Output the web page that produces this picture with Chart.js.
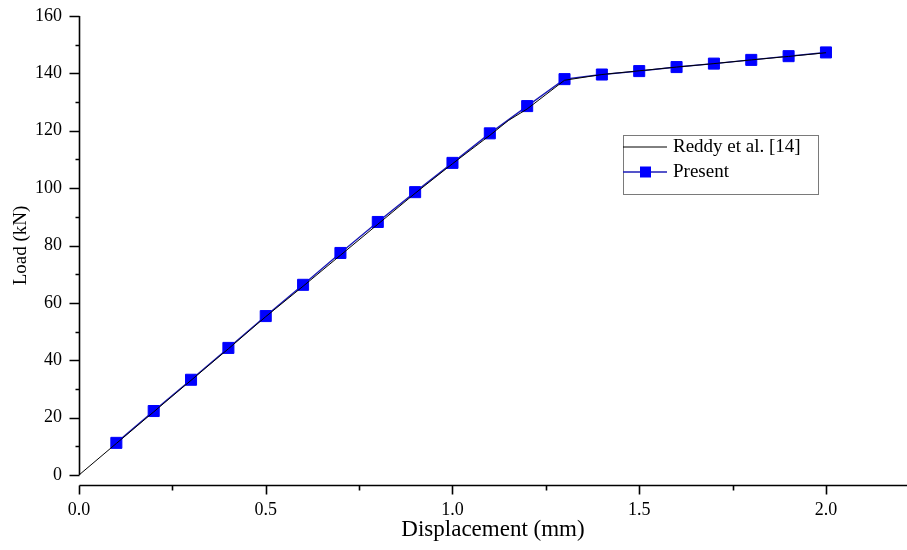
<!DOCTYPE html>
<html>
<head>
<meta charset="utf-8">
<script src="https://cdn.jsdelivr.net/npm/chart.js@4.4.0/dist/chart.umd.min.js"></script>
<style>
  body { margin: 0; background: #fff; }
  #wrap { width: 907px; height: 550px; }
</style>
</head>
<body>
<div id="wrap"><canvas id="chart"></canvas></div>
<script>
// displacement (mm) / load (kN)
const reddyX = [0, 0.1, 0.2, 0.3, 0.4, 0.5, 0.6, 0.7, 0.8, 0.9, 1.0, 1.1, 1.15, 1.2, 1.25, 1.3, 1.4, 1.5, 1.6, 1.7, 1.8, 1.9, 2.0];
const reddyY = [0, 11, 22, 33, 44, 55.2, 65.8, 76.6, 87.4, 98.2, 108.5, 118.4, 123.6, 127.6, 132.6, 137.6, 139.6, 140.9, 142.2, 143.4, 144.7, 145.9, 147.2];
const presentX = [0.1, 0.2, 0.3, 0.4, 0.5, 0.6, 0.7, 0.8, 0.9, 1.0, 1.1, 1.2, 1.3, 1.4, 1.5, 1.6, 1.7, 1.8, 1.9, 2.0];
const presentY = [11.2, 22.3, 33.2, 44.3, 55.4, 66.3, 77.4, 88.2, 98.6, 108.8, 119.1, 128.6, 138, 139.6, 140.8, 142.2, 143.4, 144.7, 146, 147.3];

const xTicks = [0, 0.5, 1.0, 1.5, 2.0];
const xMinor = [0.25, 0.75, 1.25, 1.75];
const yTicks = [0, 20, 40, 60, 80, 100, 120, 140, 160];
const yMinor = [10, 30, 50, 70, 90, 110, 130, 150];

const serif = "'Liberation Serif', 'Times New Roman', serif";

const axesPlugin = {
  id: 'axes',
  afterDraw(chart) {
    const { ctx, chartArea: a } = chart;
    const x = chart.scales.x, y = chart.scales.y;
    const xl = Math.round(a.left) + 0.5;
    const xb = Math.round(a.bottom) + 10.5;
    ctx.save();
    ctx.strokeStyle = '#000';
    ctx.lineWidth = 1.6;
    ctx.beginPath();
    ctx.moveTo(xl, y.getPixelForValue(160));
    ctx.lineTo(xl, y.getPixelForValue(0));
    ctx.moveTo(xl, xb);
    ctx.lineTo(a.right, xb);
    yTicks.forEach(v => { const p = Math.round(y.getPixelForValue(v)) + 0.5; ctx.moveTo(xl, p); ctx.lineTo(xl - 10, p); });
    yMinor.forEach(v => { const p = Math.round(y.getPixelForValue(v)) + 0.5; ctx.moveTo(xl, p); ctx.lineTo(xl - 4, p); });
    xTicks.forEach(v => { const p = Math.round(x.getPixelForValue(v)) + 0.5; ctx.moveTo(p, xb); ctx.lineTo(p, xb + 9); });
    xMinor.forEach(v => { const p = Math.round(x.getPixelForValue(v)) + 0.5; ctx.moveTo(p, xb); ctx.lineTo(p, xb + 5); });
    ctx.stroke();

    // legend box
    ctx.lineWidth = 1;
    ctx.strokeStyle = '#7a7a7a';
    ctx.strokeRect(623.5, 135.5, 195, 59);
    const ds = chart.data.datasets;
    ctx.font = '19px ' + serif;
    ctx.textBaseline = 'middle';
    ctx.fillStyle = '#000';
    [147, 172].forEach((ry, i) => {
      ctx.strokeStyle = ds[i].borderColor;
      ctx.lineWidth = ds[i].borderWidth;
      ctx.beginPath();
      ctx.moveTo(623, ry);
      ctx.lineTo(667, ry);
      ctx.stroke();
      if (ds[i].pointRadius > 0) {
        ctx.fillStyle = ds[i].pointBackgroundColor;
        ctx.fillRect(640, ry - 5.5, 11, 11);
      }
      ctx.fillStyle = '#000';
      ctx.fillText(ds[i].label, 673, ry);
    });
    ctx.restore();
  }
};

new Chart(document.getElementById('chart'), {
  type: 'line',
  data: {
    datasets: [
      {
        label: 'Reddy et al. [14]',
        data: reddyX.map((v, i) => ({ x: v, y: reddyY[i] })),
        borderColor: '#000000',
        borderWidth: 1,
        pointRadius: 0,
        tension: 0
      },
      {
        label: 'Present',
        data: presentX.map((v, i) => ({ x: v, y: presentY[i] })),
        borderColor: '#1c1cb8',
        borderWidth: 1.4,
        pointStyle: 'rect',
        pointRadius: 7.8,
        pointBackgroundColor: '#0000ff',
        pointBorderColor: '#0000ff',
        pointBorderWidth: 1,
        tension: 0
      }
    ]
  },
  options: {
    responsive: true,
    maintainAspectRatio: false,
    animation: false,
    clip: false,
    layout: { autoPadding: false, padding: { top: 16, right: 0, left: 0, bottom: 0 } },
    plugins: { legend: { display: false }, tooltip: { enabled: false } },
    scales: {
      x: {
        type: 'linear',
        min: 0,
        max: 2.217,
        afterBuildTicks: s => { s.ticks = xTicks.map(v => ({ value: v })); },
        afterFit: s => { s.height = 75; s.paddingLeft = 0; s.paddingRight = 0; },
        grid: { display: false, drawTicks: false },
        border: { display: false },
        ticks: {
          padding: 24,
          color: '#000',
          font: { family: serif, size: 18 },
          callback: v => Number(v).toFixed(1)
        },
        title: {
          display: true,
          text: 'Displacement (mm)',
          color: '#000',
          font: { family: serif, size: 23 },
          padding: { top: 0, bottom: 6 }
        }
      },
      y: {
        type: 'linear',
        min: 0,
        max: 160,
        afterBuildTicks: s => { s.ticks = yTicks.map(v => ({ value: v })); },
        afterFit: s => { s.width = 79; s.paddingTop = 0; s.paddingBottom = 0; },
        grid: { display: false, drawTicks: false },
        border: { display: false },
        ticks: {
          padding: 17,
          color: '#000',
          font: { family: serif, size: 18 },
          callback: v => String(v)
        },
        title: {
          display: true,
          text: 'Load (kN)',
          color: '#000',
          font: { family: serif, size: 19 },
          padding: { top: 10, bottom: 0 }
        }
      }
    }
  },
  plugins: [axesPlugin]
});
</script>
</body>
</html>
